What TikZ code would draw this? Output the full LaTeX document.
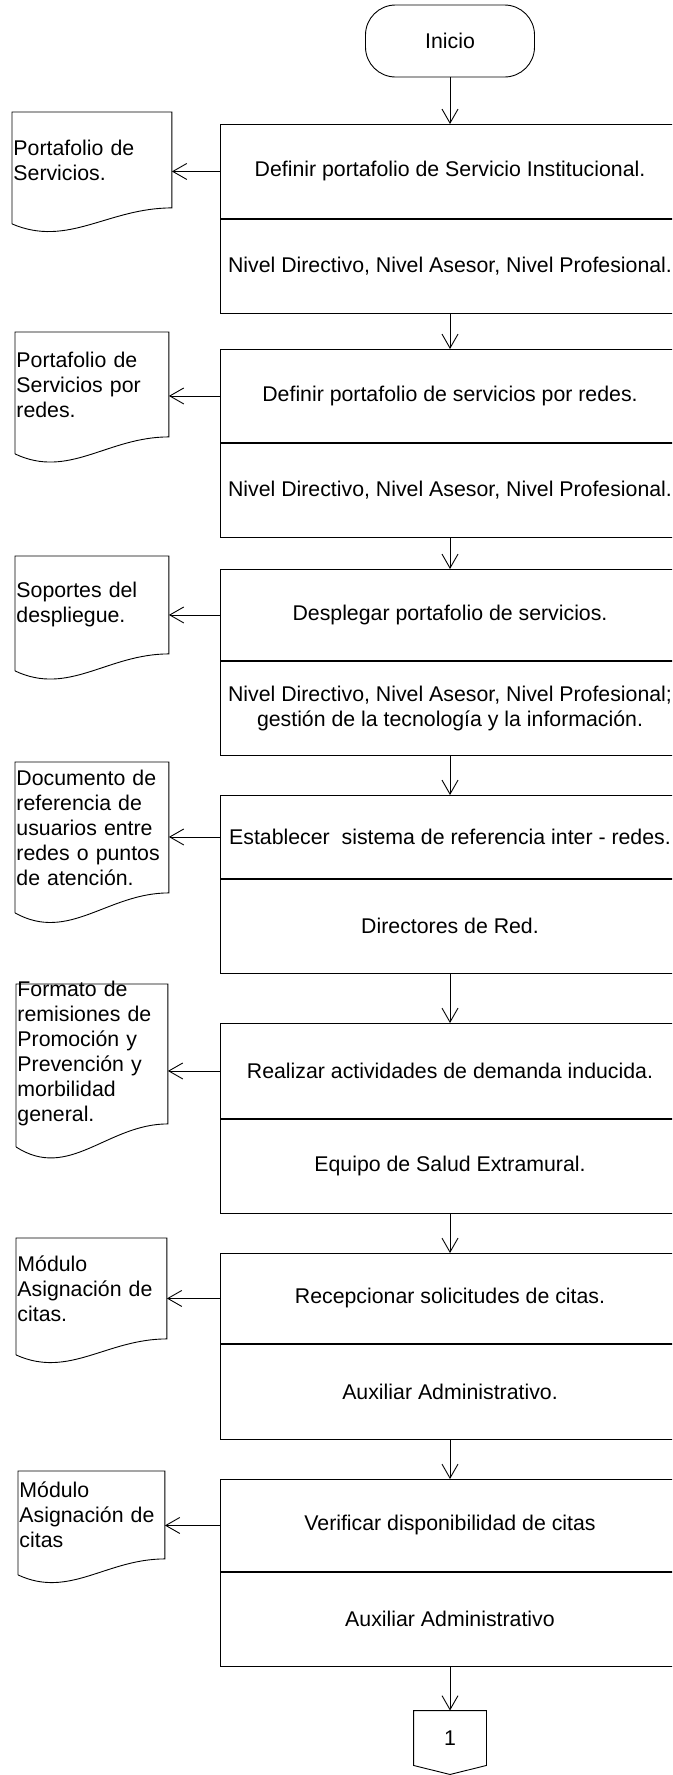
\documentclass[tikz,border=0pt]{standalone}
\usepackage{fontspec}
\setmainfont{Liberation Sans}
\usetikzlibrary{arrows.meta,calc,positioning}

\begin{document}
\begin{tikzpicture}[x=1pt, y=-1pt, line width=0.9pt,
		texto/.style={font=\fontsize{21.3}{25}\selectfont},
		inicio/.style={texto, draw, rounded corners=30pt, minimum width=169pt, minimum height=72pt},
		actividad/.style={texto, draw, anchor=north, minimum width=460pt, align=center},
		documento/.style={texto, anchor=north west, align=left, inner xsep=1pt, inner ysep=0pt},
		conector/.style={texto, minimum width=72pt, minimum height=54pt},
		flecha/.style={-{Straight Barb[length=14pt,width=16pt]}}]
			\useasboundingbox (0,0) rectangle (672,1775);
			\clip (0,0) rectangle (672,1775);

			\draw (450,41) 		node[inicio] 								(inicio) 	{Inicio};

			\draw (450,124) 	node[actividad, minimum height=94pt] 		(act1) 		{Definir portafolio de Servicio Institucional.};
			\draw (act1.south) 	node[actividad, minimum height=94pt] 		(rol1) 		{Nivel Directivo, Nivel Asesor, Nivel Profesional.};
			\draw (450,349) 	node[actividad, minimum height=93pt] 		(act2) 		{Definir portafolio de servicios por redes.};
			\draw (act2.south) 	node[actividad, minimum height=94pt] 		(rol2) 		{Nivel Directivo, Nivel Asesor, Nivel Profesional.};
			\draw (450,569) 	node[actividad, minimum height=91pt] 		(act3) 		{Desplegar portafolio de servicios.};
			\draw (act3.south) 	node[actividad, minimum height=94pt] 		(rol3) 		{Nivel Directivo, Nivel Asesor, Nivel Profesional;\\gestión de la tecnología y la información.};
			\draw (450,795) 	node[actividad, minimum height=83pt] 		(act4) 		{Establecer \ sistema de referencia inter - redes.};
			\draw (act4.south) 	node[actividad, minimum height=94pt] 		(rol4) 		{Directores de Red.};
			\draw (450,1023) 	node[actividad, minimum height=95pt] 		(act5) 		{Realizar actividades de demanda inducida.};
			\draw (act5.south) 	node[actividad, minimum height=94pt] 		(rol5) 		{Equipo de Salud Extramural.};
			\draw (450,1253) 	node[actividad, minimum height=90pt] 		(act6) 		{Recepcionar solicitudes de citas.};
			\draw (act6.south) 	node[actividad, minimum height=95pt] 		(rol6) 		{Auxiliar Administrativo.};
			\draw (450,1479) 	node[actividad, minimum height=92pt] 		(act7) 		{Verificar disponibilidad de citas};
			\draw (act7.south) 	node[actividad, minimum height=94pt] 		(rol7) 		{Auxiliar Administrativo};

			\draw (450,1738) 	node[conector] 								(con) 		{1};

			\draw (12,112) 		node[documento, text width=157pt, minimum height=95pt] 	(doc1) 	{Portafolio de\\Servicios.};
			\draw (15,332) 		node[documento, text width=151pt, minimum height=104pt] (doc2) 	{Portafolio de\\Servicios por\\redes.};
			\draw (15,556) 		node[documento, text width=151pt, minimum height=97pt] 	(doc3) 	{Soportes del\\despliegue.};
			\draw (15,762) 		node[documento, text width=151pt, minimum height=130pt] (doc4) 	{Documento de\\referencia de\\usuarios entre\\redes o puntos\\de atención.};
			\draw (16,984) 		node[documento, text width=149pt, minimum height=139pt, inner ysep=-5pt] (doc5) {Formato de\\remisiones de\\Promoción y\\Prevención y\\morbilidad\\general.};
			\draw (16,1238) 	node[documento, text width=148pt, minimum height=100pt] (doc6) 	{Módulo\\Asignación de\\citas.};
			\draw (18,1471) 	node[documento, text width=144pt, minimum height=87pt] 	(doc7) 	{Módulo\\Asignación de\\citas};

			% contorno de los documentos
			\foreach \d/\h in {doc1/16, doc2/17, doc3/17, doc4/20, doc5/23, doc6/16, doc7/16}
				\draw ($(\d.south west)+(0,\h)$) -- (\d.north west) -- (\d.north east) -- (\d.south east)
					.. controls ($(\d.south west)!0.6!(\d.south east)$) and ($(\d.south west)!0.35!(\d.south east)+(0,{2.5*\h})$) .. ($(\d.south west)+(0,\h)$);

			% conector de pagina
			\draw (con.north west) -- (con.north east) -- (con.south east) -- ($(con.south)+(0,9)$) -- (con.south west) -- cycle;

			\draw[flecha] (inicio) -- (act1);
			\foreach \a/\b in {rol1/act2, rol2/act3, rol3/act4, rol4/act5, rol5/act6, rol6/act7, rol7/con}
				\draw[flecha] (\a) -- (\b);
			\foreach \i in {1,...,7}
				\draw[flecha] (act\i.west) -- (act\i.west -| doc\i.east);
		\end{tikzpicture}
\end{document}
